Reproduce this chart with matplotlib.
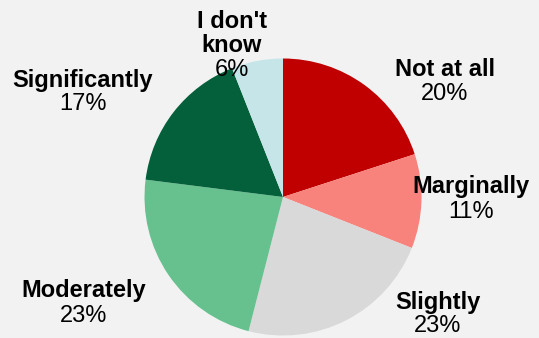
import numpy as np
import matplotlib
matplotlib.use("Agg")
import matplotlib.pyplot as plt

# survey answers, clockwise from 12 o'clock
categories = ["Not at all", "Marginally", "Slightly", "Moderately", "Significantly", "I don't know"]
shares = [20, 11, 23, 23, 17, 6]
colors = ["#C00000", "#F8827C", "#D9D9D9", "#66C18E", "#03603A", "#C6E5E8"]

# label text lines and centre of the first line, in pixels
label_lines = [["Not at all"], ["Marginally"], ["Slightly"], ["Moderately"],
               ["Significantly"], ["I don't", "know"]]
label_px = [(445, 69), (471, 187), (438, 302), (84, 291), (83, 80), (232, 21)]

W, H = 539, 338
cx, cy, r = 283, 197, 138.5
bg = "#F2F2F2"

plt.rcParams["font.family"] = ["Liberation Sans", "DejaVu Sans"]
fig = plt.figure(figsize=(W / 100, H / 100), dpi=100, facecolor=bg)
ax = fig.add_axes([0, 0, 1, 1])
ax.set_facecolor(bg)

ax.pie(shares, colors=colors, startangle=90, counterclock=False, radius=1,
       wedgeprops=dict(linewidth=0))
ax.set_aspect("auto")
ax.set_xlim(-cx / r, (W - cx) / r)
ax.set_ylim((cy - H) / r, cy / r)
ax.axis("off")

lh = 24.5 / r  # line step in data units
fs = 17
for lines, val, (px, py) in zip(label_lines, shares, label_px):
    x = (px - cx) / r
    y = (cy - py) / r
    for i, line in enumerate(lines):
        ax.text(x, y - i * lh, line, ha="center", va="center", fontsize=fs,
                fontweight="bold", color="black")
    ax.text(x, y - len(lines) * lh, f"{val}%", ha="center", va="center",
            fontsize=fs, color="black")

fig.savefig("out.png", dpi=100, facecolor=bg)
